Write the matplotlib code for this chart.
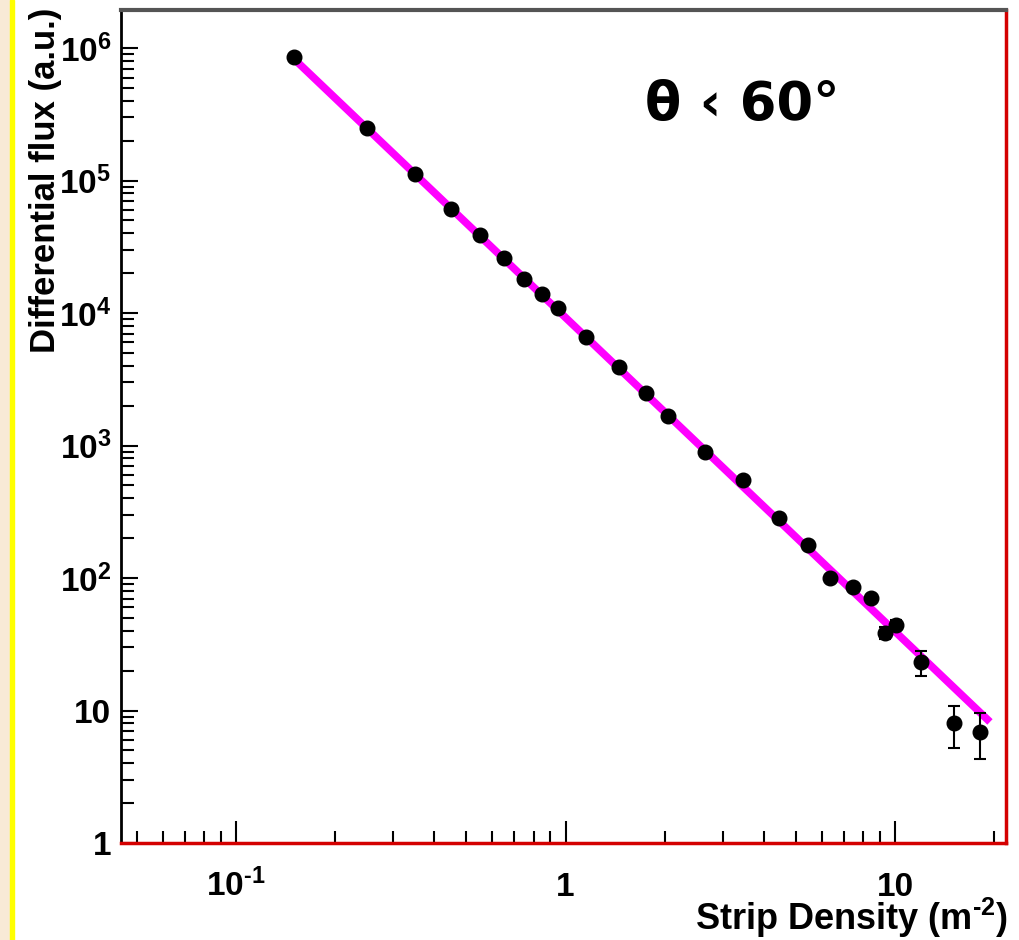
import matplotlib
matplotlib.use("Agg")
import matplotlib.pyplot as plt
from matplotlib.patches import Rectangle
from matplotlib.ticker import NullFormatter, LogLocator

# measured points (strip density in m^-2, flux in a.u.)
density = [0.15, 0.25, 0.35, 0.45, 0.55, 0.65, 0.75, 0.85, 0.95, 1.15,
           1.45, 1.75, 2.05, 2.65, 3.45, 4.45, 5.45, 6.35, 7.45, 8.45,
           9.35, 10.05, 12.0, 15.1, 18.1]
flux = [8.5e5, 2.49e5, 1.12e5, 6.1e4, 3.88e4, 2.6e4, 1.8e4, 1.39e4, 1.09e4, 6.6e3,
        3.9e3, 2.49e3, 1.67e3, 893, 549, 284, 177, 100, 85.5, 70.6,
        38.5, 44.2, 23.2, 8.05, 6.9]
flux_err = [1.0e4, 3.0e3, 1.5e3, 900, 600, 400, 300, 250, 200, 120,
            80, 55, 40, 22, 15, 9, 7, 4, 4, 4,
            4, 4, 5, 2.8, 2.6]

# power-law fit, end points
fit_x = [0.15, 19.4]
fit_y = [8.3e5, 8.2]

xtick_vals = [0.1, 1, 10]
xtick_labels = [r"$10^{\text{-}1}$", "1", "10"]
ytick_vals = [1, 10, 1e2, 1e3, 1e4, 1e5, 1e6]
ytick_labels = ["1", "10", r"$10^{2}$", r"$10^{3}$", r"$10^{4}$", r"$10^{5}$", r"$10^{6}$"]

plt.rcParams["font.family"] = ["Liberation Sans", "DejaVu Sans"]
plt.rcParams["font.weight"] = "bold"
plt.rcParams["mathtext.fontset"] = "custom"
plt.rcParams["mathtext.rm"] = "Liberation Sans:bold"
plt.rcParams["mathtext.it"] = "Liberation Sans:bold"
plt.rcParams["mathtext.bf"] = "Liberation Sans:bold"

fig = plt.figure(figsize=(10.19, 9.40), dpi=100)
fig.patches.append(Rectangle((0, 0), 10 / 1019, 1, transform=fig.transFigure,
                             color="#f8ead6", zorder=0))
fig.patches.append(Rectangle((10 / 1019, 0), 4 / 1019, 1, transform=fig.transFigure,
                             color="#ffff00", zorder=0))

ax = fig.add_axes([121 / 1019, 1 - 843 / 940, (1006 - 121) / 1019, (843 - 10) / 940])
ax.set_xscale("log")
ax.set_yscale("log")
ax.set_xlim(0.0448, 21.7)
ax.set_ylim(1, 1.94e6)

ax.plot(fit_x, fit_y, color="#ff00ff", lw=5.5, solid_capstyle="butt", zorder=2)
ax.errorbar(density, flux, yerr=flux_err, fmt="o", color="black", ms=10.5,
            elinewidth=1.5, capsize=4, capthick=1.5, zorder=3)

ax.set_xticks(xtick_vals, xtick_labels)
ax.set_yticks(ytick_vals, ytick_labels)
ax.xaxis.set_minor_locator(LogLocator(base=10, subs=range(2, 10), numticks=20))
ax.yaxis.set_minor_locator(LogLocator(base=10, subs=range(2, 10), numticks=20))
ax.xaxis.set_minor_formatter(NullFormatter())
ax.yaxis.set_minor_formatter(NullFormatter())
ax.tick_params(axis="x", which="major", direction="in", length=16, width=1.5,
               labelsize=24, pad=38)
ax.tick_params(axis="x", which="minor", direction="in", length=8.5, width=1.5)
ax.tick_params(axis="y", which="major", direction="in", length=12, width=1.5,
               labelsize=24, pad=7)
ax.tick_params(axis="y", which="minor", direction="in", length=9, width=1.5)
for lbl in ax.get_xticklabels():
    lbl.set_va("baseline")

ax.spines["top"].set_color("#555555")
ax.spines["top"].set_linewidth(3)
ax.spines["left"].set_color("black")
ax.spines["left"].set_linewidth(2)
ax.spines["bottom"].set_color("#d40000")
ax.spines["bottom"].set_linewidth(2.5)
ax.spines["right"].set_color("#d40000")
ax.spines["right"].set_linewidth(2.5)

fig.text(46 / 1019, 1 - 8 / 940, "Differential flux (a.u.)", rotation=90,
         ha="center", va="top", fontsize=25, fontweight="bold")
fig.text(1008 / 1019, 1 - 918 / 940, r"Strip Density (m$^{\text{-}2}$)",
         ha="right", va="center", fontsize=26, fontweight="bold")
fig.text(742 / 1019, 1 - 105 / 940, "θ ‹ 60°", ha="center", va="center",
         fontsize=38, fontweight="bold", family=["DejaVu Sans"])

fig.savefig("out.png", dpi=100, facecolor="white")
